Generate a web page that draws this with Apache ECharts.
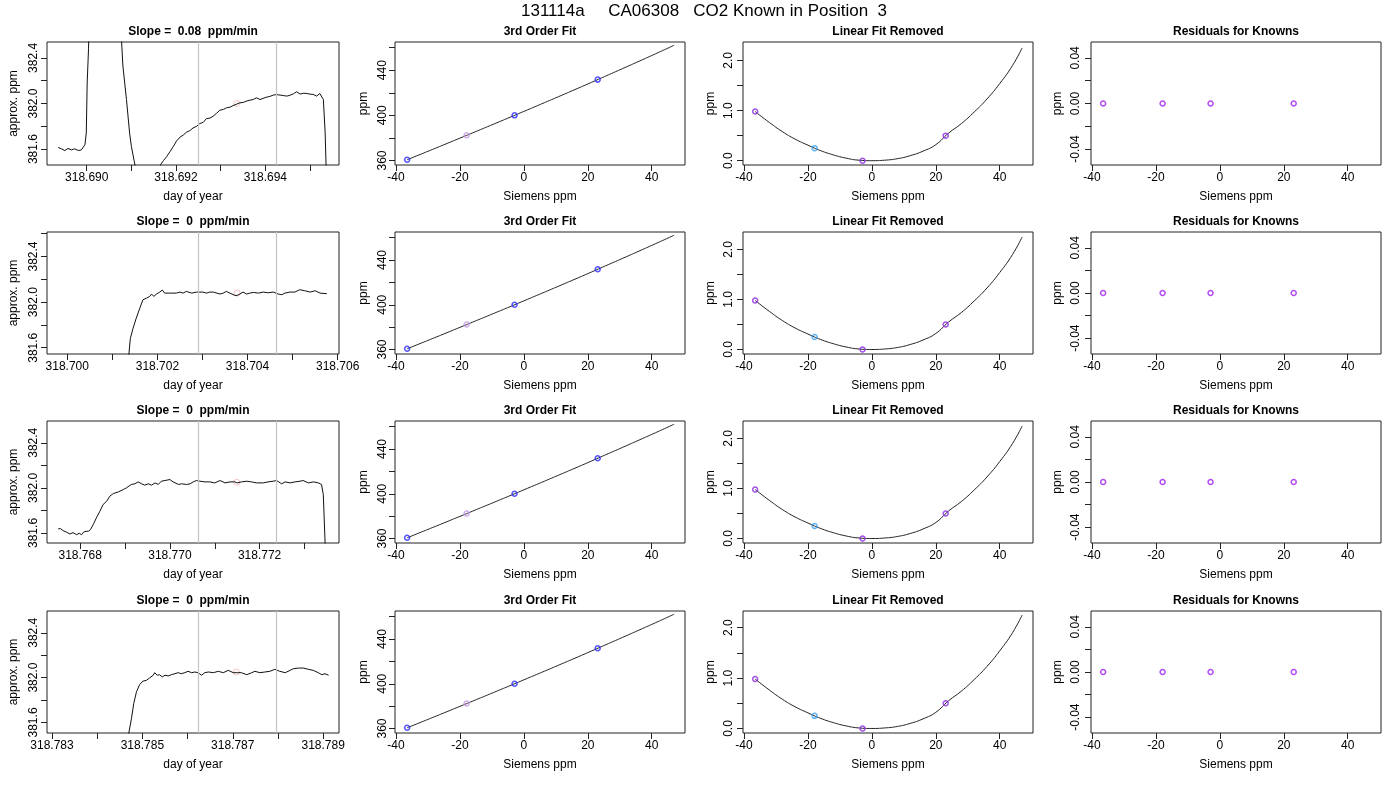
<!DOCTYPE html>
<html><head><meta charset="utf-8">
<script src="https://cdn.jsdelivr.net/npm/echarts@6/dist/echarts.min.js"></script>
<style>html,body{margin:0;background:#fff}#c{width:1400px;height:800px}</style>
</head><body><div id="c"></div>
<script>
// ---------------- DATA ----------------
const mainTitle = '131114a     CA06308   CO2 Known in Position  3';
const slopes = ['0.08', '0', '0', '0'];
const fitTitles = ['3rd Order Fit', 'Linear Fit Removed', 'Residuals for Knowns'];

// Row 1 time series (day of year, approx. ppm)
const row1Day = [318.68936,318.68943,318.68951,318.68958,318.68966,318.68973,318.68981,318.68988,318.68992,318.68996,318.68999,318.69001,318.69004,318.69007,318.69014,318.69029,318.69059,318.69070,318.69078,318.69081,318.69089,318.69096,318.69100,318.69108,318.69115,318.69130,318.69150,318.69160,318.69165,318.69172,318.69179,318.69187,318.69194,318.69201,318.69209,318.69216,318.69223,318.69231,318.69238,318.69246,318.69253,318.69261,318.69268,318.69276,318.69283,318.69291,318.69298,318.69306,318.69313,318.69321,318.69328,318.69336,318.69343,318.69351,318.69358,318.69366,318.69373,318.69380,318.69388,318.69395,318.69403,318.69410,318.69418,318.69425,318.69433,318.69440,318.69448,318.69455,318.69463,318.69470,318.69478,318.69485,318.69493,318.69500,318.69507,318.69515,318.69522,318.69526,318.69530,318.69534,318.69536,318.69539];
const row1Ppm = [381.614,381.602,381.587,381.605,381.593,381.602,381.587,381.593,381.608,381.638,381.741,382.18,382.48,383.0,384.5,386.0,385.5,383.5,382.545,382.33,382.035,381.74,381.623,381.46,381.2,380.6,380.8,381.2,381.461,381.50,381.534,381.58,381.623,381.67,381.705,381.722,381.747,381.762,381.785,381.80,381.823,381.835,381.867,381.872,381.888,381.915,381.941,381.948,381.962,381.968,381.982,381.995,382.006,382.01,382.021,382.03,382.035,382.05,382.035,382.045,382.056,382.062,382.074,382.078,382.074,382.07,382.065,382.072,382.085,382.103,382.083,382.09,382.088,382.082,382.08,382.065,382.088,382.094,382.035,381.741,381.461,381.2];

// Row 2
const row2Day = [318.69980,318.70100,318.70131,318.70140,318.70146,318.70153,318.70161,318.70168,318.70176,318.70183,318.70187,318.70192,318.70198,318.70205,318.70211,318.70216,318.70227,318.70242,318.70250,318.70257,318.70264,318.70276,318.70287,318.70301,318.70309,318.70316,318.70324,318.70339,318.70346,318.70353,318.70361,318.70372,318.70377,318.70383,318.70390,318.70398,318.70405,318.70413,318.70424,318.70435,318.70446,318.70457,318.70468,318.70476,318.70483,318.70494,318.70505,318.70516,318.70527,318.70539,318.70550,318.70561,318.70576];
const row2Ppm = [379.0,380.0,381.3,381.682,381.771,381.859,381.947,382.021,382.035,382.05,382.071,382.05,382.071,382.088,382.106,382.079,382.079,382.079,382.088,382.079,382.094,382.079,382.088,382.088,382.079,382.088,382.088,382.071,382.079,382.094,382.079,382.059,382.059,382.071,382.088,382.071,382.079,382.085,382.079,382.088,382.082,382.088,382.071,382.065,382.079,382.088,382.088,382.109,382.10,382.088,382.10,382.079,382.074];

// Row 3
const row3Day = [318.76751,318.76756,318.76762,318.76770,318.76777,318.76784,318.76792,318.76798,318.76803,318.76808,318.76813,318.76818,318.76823,318.76829,318.76836,318.76844,318.76851,318.76859,318.76866,318.76874,318.76885,318.76896,318.76903,318.76914,318.76922,318.76929,318.76937,318.76944,318.76952,318.76959,318.76967,318.76974,318.76981,318.76989,318.77000,318.77007,318.77019,318.77026,318.77037,318.77045,318.77052,318.77059,318.77067,318.77078,318.77089,318.77100,318.77112,318.77123,318.77134,318.77145,318.77150,318.77160,318.77171,318.77182,318.77193,318.77208,318.77219,318.77230,318.77238,318.77249,318.77257,318.77268,318.77279,318.77290,318.77297,318.77309,318.77320,318.77331,318.77338,318.77342,318.77346,318.77348];
const row3Ppm = [381.636,381.639,381.621,381.606,381.591,381.603,381.585,381.597,381.585,381.609,381.615,381.615,381.630,381.674,381.733,381.793,381.852,381.881,381.926,381.950,381.964,381.985,382.000,382.030,382.036,382.053,382.036,382.024,382.036,382.024,382.044,382.030,382.059,382.065,382.074,382.053,382.030,382.036,382.030,382.036,382.053,382.065,382.059,382.053,382.053,382.044,382.065,382.044,382.053,382.053,382.044,382.053,382.059,382.053,382.044,382.044,382.053,382.059,382.065,382.036,382.053,382.044,382.053,382.059,382.065,382.044,382.053,382.044,382.030,381.941,381.511,381.2];

// Row 4
const row4Day = [318.78313,318.78430,318.78465,318.78470,318.78476,318.78481,318.78487,318.78494,318.78501,318.78509,318.78516,318.78524,318.78527,318.78533,318.78538,318.78544,318.78550,318.78557,318.78564,318.78572,318.78579,318.78586,318.78594,318.78601,318.78609,318.78616,318.78623,318.78631,318.78638,318.78646,318.78657,318.78668,318.78679,318.78690,318.78701,318.78710,318.78719,318.78731,318.78742,318.78749,318.78760,318.78771,318.78782,318.78793,318.78804,318.78816,318.78827,318.78834,318.78845,318.78856,318.78867,318.78878,318.78889,318.78897,318.78904,318.78912];
const row4Ppm = [378.0,379.5,381.2,381.506,381.638,381.771,381.874,381.938,381.968,381.976,381.997,382.021,382.044,382.021,382.026,382.006,382.021,382.015,382.026,382.035,382.044,382.035,382.044,382.056,382.044,382.050,382.044,382.021,382.044,382.050,382.044,382.056,382.044,382.065,382.044,382.044,382.044,382.026,382.044,382.056,382.044,382.050,382.056,382.074,382.056,382.044,382.065,382.079,382.085,382.085,382.074,382.065,382.044,382.026,382.035,382.021];

const seriesDays = [row1Day, row2Day, row3Day, row4Day];
const seriesPpm = [row1Ppm, row2Ppm, row3Ppm, row4Ppm];

// window marks (vertical grey lines) and mean marker per row
const windowStart = [318.69250, 318.70290, 318.77063, 318.78623];
const windowEnd   = [318.69424, 318.70463, 318.77236, 318.78796];
const meanDay = [318.69336, 318.70377, 318.77149, 318.78708];
const meanPpm = [382.00, 382.079, 382.05, 382.05];

// axis ranges / ticks for time panels
const dayMin = [318.68911, 318.69955, 318.76726, 318.78289];
const dayMax = [318.69565, 318.70603, 318.77377, 318.78935];
const ppmMin = [381.46, 381.545, 381.511, 381.506];
const ppmMax = [382.54, 382.615, 382.593, 382.594];
const dayTicks = [
  [318.690,318.691,318.692,318.693,318.694,318.695],
  [318.700,318.701,318.702,318.703,318.704,318.705,318.706],
  [318.768,318.769,318.770,318.771,318.772,318.773],
  [318.783,318.784,318.785,318.786,318.787,318.788,318.789]
];
const dayLabels = [
  [318.690,318.692,318.694],
  [318.700,318.702,318.704,318.706],
  [318.768,318.770,318.772],
  [318.783,318.785,318.787,318.789]
];
const ppmTicks = [381.6,381.8,382.0,382.2,382.4,382.6];
const ppmLabels = [381.6,382.0,382.4];

// Knowns
const siemensPpm = [-36.5, -17.9, -2.9, 23.1];
const knownPpm = [360.7, 382.3, 400.0, 431.7];
const linRemoved = [0.98, 0.25, 0.0, 0.50];
const residuals = [0.0, 0.0, 0.0, 0.0];

// fitted curve
const curveX = [-36.5,-32,-28,-24,-20,-16,-12,-8,-4,0,4,8,12,16,20,24,28,32,36,40,44,47];
const curveFit = [360.66,365.84,370.46,375.11,379.79,384.48,389.2,393.93,398.69,403.48,408.29,413.12,417.98,422.87,427.8,432.83,437.82,442.85,447.91,453.02,458.18,462.13];
const curveResid = [0.98,0.76,0.58,0.43,0.31,0.20,0.115,0.05,0.01,0.0,0.01,0.04,0.10,0.19,0.32,0.55,0.74,0.97,1.23,1.54,1.90,2.25];

const sieMin = -40.3, sieMax = 50.4;
const sieTicks = [-40,-20,0,20,40];
const fitMin = 356, fitMax = 465;
const fitTicks = [360,380,400,420,440,460];
const fitLabels = [360,400,440];
const remMin = [-0.086,-0.09,-0.09,-0.09], remMax = [2.368,2.35,2.35,2.33];
const remTicks = [0,0.5,1.0,1.5,2.0];
const remLabels = [0,1,2];
const resMin = -0.054, resMax = 0.054;
const resTicks = [-0.04,-0.02,0,0.02,0.04];
const resLabels = [-0.04,0,0.04];

// ---------------- STYLE / LAYOUT ----------------
const FONT = 'Liberation Sans, Arial, Helvetica, sans-serif';
const colLeft = [47, 395, 743, 1091];
const colWidth = [292, 290, 290, 290];
const rowTop = [42, 232, 421, 611];
const rowHeight = [123, 122, 122, 122];
const fitColors = ['#2a2aff', '#c49ae6', '#2a2aff', '#2a2aff'];
const remColors = ['#8a2be2', '#3aa0f0', '#8a2be2', '#8a2be2'];
const resColor = '#a020f0';

const zip = (a, b) => a.map((v, i) => [v, b[i]]);
const within = (arr, lo, hi) => arr.filter(v => v >= lo && v <= hi);

const grids = [], xAxes = [], yAxes = [], series = [], titles = [];
titles.push({text: mainTitle, left: 704, top: 3, padding: 0, textAlign: 'center',
  textStyle: {fontSize: 17, fontWeight: 'normal', color: '#000', fontFamily: FONT}});

function xAx(gi, min, max, ticks, labels, fmt, name) {
  return {type: 'value', gridIndex: gi, min: min, max: max, name: name, nameLocation: 'middle', nameGap: 26,
    nameTextStyle: {color: '#000', fontSize: 12, fontFamily: FONT},
    axisLine: {show: false, onZero: false}, splitLine: {show: false},
    axisTick: {show: true, inside: false, length: 6, lineStyle: {color: '#222', width: 1}, customValues: within(ticks, min, max)},
    axisLabel: {show: true, margin: 7, color: '#000', fontSize: 12, fontFamily: FONT, customValues: within(labels, min, max), formatter: fmt}};
}
function yAx(gi, min, max, ticks, labels, fmt, name, margin, gap) {
  return {type: 'value', gridIndex: gi, min: min, max: max, name: name, nameLocation: 'middle', nameGap: gap,
    nameTextStyle: {color: '#000', fontSize: 12, fontFamily: FONT},
    axisLine: {show: false, onZero: false}, splitLine: {show: false},
    axisTick: {show: true, inside: false, length: 6, lineStyle: {color: '#222', width: 1}, customValues: within(ticks, min, max)},
    axisLabel: {show: true, rotate: 90, margin: margin, color: '#000', fontSize: 12, fontFamily: FONT, customValues: within(labels, min, max), formatter: fmt}};
}
function panelTitle(text, c, r) {
  titles.push({text: text, left: colLeft[c] + colWidth[c] / 2, top: rowTop[r] - 16, padding: 0, textAlign: 'center',
    textStyle: {fontSize: 12, fontWeight: 'bold', color: '#000', fontFamily: FONT}});
}
function pts(xs, ys, colors) {
  return xs.map((x, i) => ({value: [x, ys[i]], itemStyle: {borderColor: Array.isArray(colors) ? colors[i] : colors}}));
}

for (let r = 0; r < 4; r++) {
  for (let c = 0; c < 4; c++) {
    grids.push({left: colLeft[c], top: rowTop[r], width: colWidth[c], height: rowHeight[r],
      show: true, borderColor: '#222', borderWidth: 1, backgroundColor: 'transparent', containLabel: false});
  }
  const g0 = r * 4, g1 = r * 4 + 1, g2 = r * 4 + 2, g3 = r * 4 + 3;

  // Column 1: time series
  panelTitle('Slope =  ' + slopes[r] + '  ppm/min', 0, r);
  xAxes.push(xAx(g0, dayMin[r], dayMax[r], dayTicks[r], dayLabels[r], v => v.toFixed(3), 'day of year'));
  yAxes.push(yAx(g0, ppmMin[r], ppmMax[r], ppmTicks, ppmLabels, v => v.toFixed(1), 'approx. ppm', 7, 27));
  series.push({type: 'scatter', xAxisIndex: g0, yAxisIndex: g0, z: 2, symbol: 'circle', symbolSize: 6,
    itemStyle: {color: 'rgba(255,255,255,0)', borderColor: '#f5b5b5', borderWidth: 1},
    data: [[meanDay[r], meanPpm[r]]],
    markLine: {silent: true, precision: 8, symbol: ['none', 'none'], label: {show: false}, animation: false,
      lineStyle: {color: '#c4c4c4', type: 'solid', width: 1.2},
      data: [{xAxis: windowStart[r]}, {xAxis: windowEnd[r]}]}});
  series.push({type: 'line', xAxisIndex: g0, yAxisIndex: g0, data: zip(seriesDays[r], seriesPpm[r]),
    showSymbol: false, symbol: 'none', clip: true, z: 3, lineStyle: {color: '#111', width: 1}});

  // Column 2: 3rd order fit
  panelTitle(fitTitles[0], 1, r);
  xAxes.push(xAx(g1, sieMin, sieMax, sieTicks, sieTicks, v => String(v), 'Siemens ppm'));
  yAxes.push(yAx(g1, fitMin, fitMax, fitTicks, fitLabels, v => String(v), 'ppm', 6, 25));
  series.push({type: 'line', xAxisIndex: g1, yAxisIndex: g1, data: zip(curveX, curveFit), smooth: true,
    showSymbol: false, symbol: 'none', z: 2, lineStyle: {color: '#222', width: 1}});
  series.push({type: 'scatter', xAxisIndex: g1, yAxisIndex: g1, z: 3, symbol: 'circle', symbolSize: 5,
    itemStyle: {color: 'rgba(255,255,255,0)', borderWidth: 1.5}, data: pts(siemensPpm, knownPpm, fitColors)});

  // Column 3: linear fit removed
  panelTitle(fitTitles[1], 2, r);
  xAxes.push(xAx(g2, sieMin, sieMax, sieTicks, sieTicks, v => String(v), 'Siemens ppm'));
  yAxes.push(yAx(g2, remMin[r], remMax[r], remTicks, remLabels, v => v.toFixed(1), 'ppm', 8, 26));
  series.push({type: 'line', xAxisIndex: g2, yAxisIndex: g2, data: zip(curveX, curveResid), smooth: true,
    showSymbol: false, symbol: 'none', z: 2, lineStyle: {color: '#222', width: 1}});
  series.push({type: 'scatter', xAxisIndex: g2, yAxisIndex: g2, z: 3, symbol: 'circle', symbolSize: 5,
    itemStyle: {color: 'rgba(255,255,255,0)', borderWidth: 1.5}, data: pts(siemensPpm, linRemoved, remColors)});

  // Column 4: residuals
  panelTitle(fitTitles[2], 3, r);
  xAxes.push(xAx(g3, sieMin, sieMax, sieTicks, sieTicks, v => String(v), 'Siemens ppm'));
  yAxes.push(yAx(g3, resMin, resMax, resTicks, resLabels, v => v.toFixed(2), 'ppm', 9, 27));
  series.push({type: 'scatter', xAxisIndex: g3, yAxisIndex: g3, z: 3, symbol: 'circle', symbolSize: 5,
    itemStyle: {color: 'rgba(255,255,255,0)', borderWidth: 1.5}, data: pts(siemensPpm, residuals, resColor)});
}

const chart = echarts.init(document.getElementById('c'), null, {renderer: 'canvas'});
chart.setOption({
  animation: false,
  backgroundColor: '#fff',
  title: titles,
  grid: grids,
  xAxis: xAxes,
  yAxis: yAxes,
  series: series
});
</script></body></html>
